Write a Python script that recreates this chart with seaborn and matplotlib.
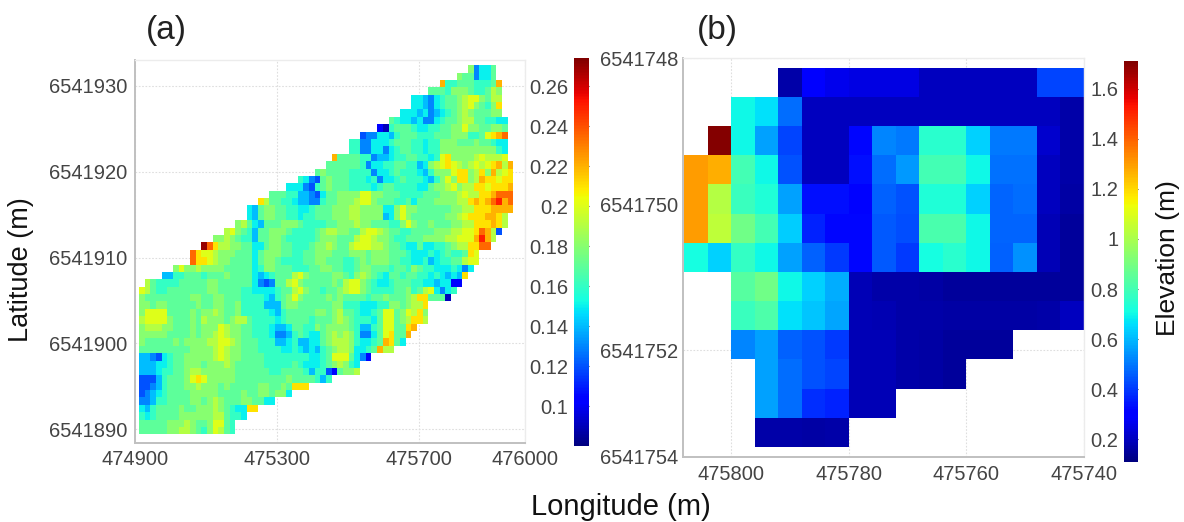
import numpy as np
import matplotlib
matplotlib.use('Agg')
import matplotlib.pyplot as plt
import seaborn as sns

sns.set_theme(style='white')
plt.rcParams['font.family'] = ['Liberation Sans', 'DejaVu Sans']

# panel (a) grid, one letter per cell
a_lon0, a_dlon = 474911, 16
a_lat0, a_dlat = 6541932.4, 0.86
a_levels = dict(zip('0123456789abcdef',
                    [.09, .105, .12, .13, .14, .15, .16, .17, .18, .19, .20, .21, .22, .235, .25, .27]))
a_starts = [58, 56, 53, 51, 48, 48, 46, 44, 42, 39, 37, 37, 34, 33, 31, 28, 26, 23, 21, 19, 19, 17, 15, 13, 11,
            9, 9, 6, 4, 1] + [0] * 20
a_ends = [63, 63, 64, 64, 64, 64, 64, 65, 65, 65, 65, 65, 65, 66, 66, 66, 66, 66, 66, 66, 65, 65, 64, 63, 62,
          60, 60, 59, 58, 57, 56, 55, 51, 51, 51, 49, 48, 47, 45, 41, 39, 39, 34, 30, 27, 24, 21, 19, 17, 17]
a_rows = [
    '83557',
    '8773557',
    'c667776667c',
    '7776888766798',
    '5543567789aa8799',
    '5543567789a8768b',
    '555453456789877788',
    '765545335677899776655',
    '106777655667788a8877887',
    '2335546777666777888667abcd',
    '6633555677766566888777877655',
    '6633553567766566888888888865',
    'c777766344566776656ab88889a999a',
    '77777763556677664589aba989a9abc9c',
    '787777666635567666546888abb89b8c9ab',
    '65327877766656355676665468a8bb89cbbabb',
    '55532678777666656776666557889a899bbabbbc',
    '7776644325778888aa8877766667778889a99bbcddd',
    'b97766544336778889aa87776675777888899bcbcdecd',
    '5478877665567778889988885 58a887777778899bbbcccc',
    '5478877665667778889988884 58a8777777889abbbccb9',
    '897547778887666677888988777668a87787778899bbbcb9',
    '9a87647788876666789988779aa987766777788899aabdc922',
    '88987664778876666678887779aa988766777888899aaacec92',
    'fdb998877557887766678898779aaa998776557556678 99bbdd',
    'dbaa98887775788877667788877788878887776555656766 7baa',
    'dbba988777757887666677887776678788877665564566779aa',
    '8a889888877777568877766677887766788777677687665556535 5be',
    '446677767778777754567779a87777887689876577677665654 54bc',
    '97666677777887777775323779a877777879aa87655677766554 5511',
    'a976677777778877776655556779a877677 89aa8766667786 79a53565',
    '877777777887788777666654678a87777878777767787778 9bb77 70',
    '8878877777877887786666444788777777886665556688 7899bb',
    '8aaaa77778788987786666654677777887897765567aa78a9b8',
    '9aaaa8777879888789976666567777677789 87666 57aa789bb9',
    '89998877787888a98877666544577668 78888764467aa77bc',
    '888887777878 89a988776665334676557898986335 7ab77c',
    '87777787888899aa98777666445644557899986556 7cb75',
    '77777777788889a98877766665565454678998 5567c9',
    '44325677888889a98877776666666655 67aaa7531',
    '44455677888788898777776666676555678986546631788',
    '444566778998888887777776677776466217889',
    '222467778aba8888877777777787777 64663',
    '22346777889888787777788778 7bbb',
    '23456777788888777787788788 5',
    '3346677778878987778 8775 5',
    '5467777877888 9876 55bb',
    '6567777888888 99766 5',
    '777778889 87 78aa76',
    '7777788998 768a976',
]
a_xticks = [474900, 475300, 475700, 476000]
a_yticks = [6541930, 6541920, 6541910, 6541900, 6541890]
a_cbar_ticks = [.1, .12, .14, .16, .18, .2, .22, .24, .26]
a_cbar_labels = ['0.1', '0.12', '0.14', '0.16', '0.18', '0.2', '0.22', '0.24', '0.26']

# panel (b) elevation, 13 rows by 17 columns, n = empty
n = np.nan
b_lon0, b_dlon = 475808, -4
b_lat0, b_dlat = 6541748.135, 0.399
b_row0 = [n, n, n, n, .17, .30, .26, .25, .25, .25, .20, .20, .20, .20, .20, .42, .42]
b_row1 = [n, n, .70, .66, .48, .20, .20, .20, .20, .20, .20, .20, .20, .20, .20, .20, .17]
b_row2 = [n, 1.7, .70, .56, .42, .20, .20, .32, .52, .50, .75, .75, .64, .50, .50, .22, .17]
b_row3 = [1.30, 1.27, .80, .70, .44, .20, .20, .33, .48, .55, .80, .80, .70, .49, .49, .20, .17]
b_row4 = [1.30, 1.02, .78, .73, .56, .33, .33, .31, .46, .44, .73, .73, .64, .47, .48, .20, .16]
b_row5 = [1.30, 1.04, .89, .80, .63, .36, .32, .32, .45, .43, .81, .81, .70, .47, .47, .19, .15]
b_row6 = [.71, .64, .77, .70, .56, .46, .40, .32, .45, .40, .71, .75, .70, .46, .54, .19, .15]
b_row7 = [n, n, .84, .89, .70, .64, .58, .19, .17, .17, .16, .15, .15, .15, .15, .15, .15]
b_row8 = [n, n, .78, .82, .66, .62, .57, .19, .18, .17, .17, .16, .16, .16, .16, .17, .20]
b_row9 = [n, n, .52, .56, .46, .44, .40, .19, .19, .17, .16, .15, .15, .15, n, n, n]
b_row10 = [n, n, n, .56, .48, .44, .42, .19, .19, .17, .16, .15, n, n, n, n, n]
b_row11 = [n, n, n, .56, .48, .38, .36, .19, .19, n, n, n, n, n, n, n, n]
b_row12 = [n, n, n, .17, .17, .16, .17, n, n, n, n, n, n, n, n, n, n]
b_xticks = [475800, 475780, 475760, 475740]
b_yticks = [6541748, 6541750, 6541752, 6541753.46]
b_ylabels = ['6541748', '6541750', '6541752', '6541754']
b_cbar_ticks = [.2, .4, .6, .8, 1, 1.2, 1.4, 1.6]
b_cbar_labels = ['0.2', '0.4', '0.6', '0.8', '1', '1.2', '1.4', '1.6']

# build the (a) matrix from the coded rows, last letter repeats up to the row end
a_grid = np.full((len(a_rows), 66), np.nan)
for i, row in enumerate(a_rows):
    row = row.replace(' ', '')
    for col in range(a_starts[i], a_ends[i]):
        ch = row[min(col - a_starts[i], len(row) - 1)]
        a_grid[i, col] = a_levels[ch]
b_grid = np.array([b_row0, b_row1, b_row2, b_row3, b_row4, b_row5, b_row6,
                   b_row7, b_row8, b_row9, b_row10, b_row11, b_row12])

W, H = 1184, 522
fig = plt.figure(figsize=(W / 100, H / 100), dpi=100)


def px_axes(x0, y0, x1, y1):
    return fig.add_axes([x0 / W, 1 - y1 / H, (x1 - x0) / W, (y1 - y0) / H])


def style_map(ax, xt, xlabels, yt, ylabels, padx, pady):
    ax.set_xticks(xt)
    ax.set_yticks(yt)
    ax.set_xticklabels(xlabels, rotation=0)
    ax.set_yticklabels(ylabels, rotation=0)
    ax.tick_params(length=0, labelsize=14.5, labelcolor='#444444')
    ax.tick_params(axis='x', pad=padx)
    ax.tick_params(axis='y', pad=pady)
    ax.set_axisbelow(True)
    ax.grid(True, color='#dedede', lw=0.8, ls=(0, (1.5, 1.5)))
    for name, sp in ax.spines.items():
        sp.set_visible(True)
        sp.set_color('#c0c0c0' if name in ('left', 'bottom') else '#ececec')
        sp.set_linewidth(1.4 if name in ('left', 'bottom') else 1.0)


def style_cbar(cax, ticks, labels):
    cax.yaxis.set_ticks_position('left')
    cax.set_yticks(ticks)
    cax.set_yticklabels(labels)
    cax.tick_params(axis='y', left=True, right=True, labelleft=True, labelright=False, direction='in',
                    length=3, width=0.8, color='#333333', labelsize=14.5, labelcolor='#444444', pad=4)
    for sp in cax.spines.values():
        sp.set_visible(False)


# panel (a)
ax1 = px_axes(135, 60, 525, 443)
cax1 = px_axes(574, 58, 589, 446)
sns.heatmap(a_grid, ax=ax1, cbar_ax=cax1, cmap='jet', vmin=.08, vmax=.274, xticklabels=False, yticklabels=False)
ax1.set_xlim((474900 - a_lon0) / a_dlon, (476000 - a_lon0) / a_dlon)
ax1.set_ylim((a_lat0 - 6541888.4) / a_dlat, (a_lat0 - 6541933) / a_dlat)
style_map(ax1, [(v - a_lon0) / a_dlon for v in a_xticks], [str(v) for v in a_xticks],
          [(a_lat0 - v) / a_dlat for v in a_yticks], [str(v) for v in a_yticks], 5, 5.8)
style_cbar(cax1, a_cbar_ticks, a_cbar_labels)

# panel (b)
ax2 = px_axes(683, 58, 1084, 457)
cax2 = px_axes(1124, 61, 1138, 462)
sns.heatmap(b_grid, ax=ax2, cbar_ax=cax2, cmap='jet', vmin=.11, vmax=1.71, xticklabels=False, yticklabels=False)
ax2.set_xlim((475808.2 - b_lon0) / b_dlon, (475740 - b_lon0) / b_dlon)
ax2.set_ylim((6541753.46 - b_lat0) / b_dlat, (6541748 - b_lat0) / b_dlat)
style_map(ax2, [(v - b_lon0) / b_dlon for v in b_xticks], [str(v) for v in b_xticks],
          [(v - b_lat0) / b_dlat for v in b_yticks], b_ylabels, 5.5, 3.6)
style_cbar(cax2, b_cbar_ticks, b_cbar_labels)

# titles and axis names
fig.text(166 / W, 1 - 30 / H, '(a)', fontsize=24, color='#222222', ha='center', va='center')
fig.text(717 / W, 1 - 30 / H, '(b)', fontsize=24, color='#222222', ha='center', va='center')
fig.text(621 / W, 1 - 507 / H, 'Longitude (m)', fontsize=21, color='#111111', ha='center', va='center')
fig.text(21 / W, 1 - 270 / H, 'Latitude (m)', fontsize=19.5, color='#111111', ha='center', va='center',
         rotation=90)
fig.text(1168 / W, 1 - 258 / H, 'Elevation (m)', fontsize=19, color='#111111', ha='center', va='center',
         rotation=90)

fig.savefig('out.png', dpi=100)
